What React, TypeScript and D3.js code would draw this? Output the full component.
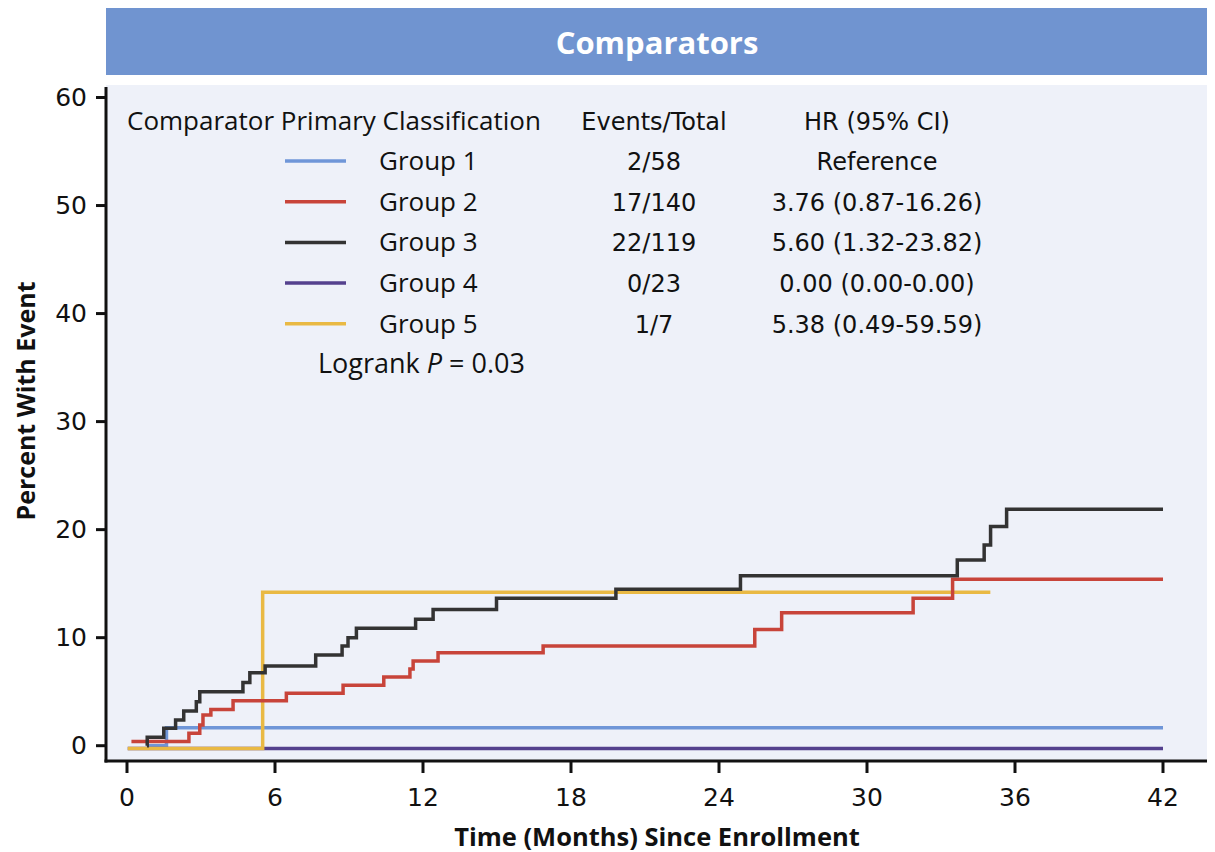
import React from "react"
import * as d3 from "d3"

// Kaplan-Meier style step data: [month, percent]
const group1 = [[0.8, 0], [1.6, 1.67], [42, 1.67]]
const group2 = [[0.18, 0.4], [2.51, 1.15], [2.95, 1.92], [3.08, 2.84], [3.4, 3.35], [4.3, 4.15], [6.46, 4.85], [8.76, 5.6], [10.41, 6.35], [11.47, 7.1], [11.6, 7.84], [12.61, 8.6], [16.87, 9.23], [25.45, 10.75], [26.54, 12.3], [31.87, 13.65], [33.47, 15.4], [42, 15.4]]
const group3 = [[0.81, 0], [0.82, 0.78], [1.49, 1.61], [1.97, 2.38], [2.3, 3.21], [2.81, 4.07], [2.95, 5.0], [4.7, 5.85], [4.98, 6.76], [5.6, 7.38], [7.65, 8.4], [8.72, 9.23], [8.96, 10.0], [9.3, 10.87], [11.7, 11.7], [12.41, 12.6], [14.98, 13.65], [19.82, 14.48], [24.87, 15.74], [33.66, 17.19], [34.75, 18.58], [35.01, 20.28], [35.66, 21.89], [42, 21.89]]
const group4 = [[0.03, -0.25], [42, -0.25]]
const group5 = [[0.03, -0.25], [5.5, 14.2], [35.0, 14.2]]

const groupNames = ["Group 1", "Group 2", "Group 3", "Group 4", "Group 5"]
const colors = ["#6f96d8", "#c8443a", "#333333", "#54418e", "#e9b944"]
const events = ["2/58", "17/140", "22/119", "0/23", "1/7"]
const hrs = ["Reference", "3.76 (0.87-16.26)", "5.60 (1.32-23.82)", "0.00 (0.00-0.00)", "5.38 (0.49-59.59)"]
const xTicks = [0, 6, 12, 18, 24, 30, 36, 42]
const yTicks = [0, 10, 20, 30, 40, 50, 60]

const series = [group1, group2, group3, group4, group5]
const drawOrder = [0, 3, 4, 1, 2]

const W = 1215
const H = 852
const font = "'Open Sans', 'Noto Sans', sans-serif"
const numFont = "'DejaVu Sans', Verdana, sans-serif"

export default function App() {
  const x = d3.scaleLinear().domain([0, 42]).range([127, 1163])
  const y = d3.scaleLinear().domain([0, 60]).range([745.7, 97.5])
  const line = d3.line<number[]>().x(d => x(d[0])).y(d => y(d[1])).curve(d3.curveStepAfter)

  const plotLeft = 106
  const plotRight = 1207
  const plotTop = 85
  const plotBottom = 761

  // text baselines of the legend rows
  const rowY = (i: number) => 170 + i * 40.7

  return (
    <svg width={W} height={H} style={{ position: "absolute", left: 0, top: 0 }} fontFamily={font}>
      <rect x={0} y={0} width={W} height={H} fill="#fff" />
      {/* header band */}
      <rect x={106} y={8} width={1101} height={67} fill="#7094d0" />
      <text x={657} y={42} textAnchor="middle" dominantBaseline="central" fill="#fff" fontSize={31} fontWeight="bold">Comparators</text>

      {/* plot background */}
      <rect x={plotLeft} y={plotTop} width={plotRight - plotLeft} height={plotBottom - plotTop} fill="#eef1f9" />

      {/* curves */}
      {drawOrder.map(i => (
        <path key={i} d={line(series[i]) || ""} fill="none" stroke={colors[i]} strokeWidth={3.5} />
      ))}

      {/* axes */}
      <line x1={plotLeft} x2={plotLeft} y1={87} y2={plotBottom + 1.5} stroke="#111" strokeWidth={3} />
      <line x1={plotLeft - 1.5} x2={plotRight} y1={plotBottom} y2={plotBottom} stroke="#111" strokeWidth={3} />
      {yTicks.map(t => (
        <g key={"y" + t}>
          <line x1={plotLeft - 10} x2={plotLeft} y1={y(t)} y2={y(t)} stroke="#111" strokeWidth={3} />
          <text x={plotLeft - 19} y={y(t)} textAnchor="end" dominantBaseline="central" fontFamily={numFont} fontSize={25} fill="#111">{t}</text>
        </g>
      ))}
      {xTicks.map(t => (
        <g key={"x" + t}>
          <line x1={x(t)} x2={x(t)} y1={plotBottom} y2={plotBottom + 12} stroke="#111" strokeWidth={3} />
          <text x={x(t)} y={797} textAnchor="middle" dominantBaseline="central" fontFamily={numFont} fontSize={25} fill="#111">{t}</text>
        </g>
      ))}
      <text x={657} y={836} textAnchor="middle" dominantBaseline="central" fontSize={25.5} fontWeight="bold" fill="#111">Time (Months) Since Enrollment</text>
      <text transform="translate(25,401) rotate(-90)" textAnchor="middle" dominantBaseline="central" fontSize={25} fontWeight="bold" fill="#111">Percent With Event</text>

      {/* legend table */}
      <g fontSize={26} fill="#111">
        <text x={127} y={130}>Comparator Primary Classification</text>
        <text x={654} y={130} textAnchor="middle" fontFamily={numFont} fontSize={24}>Events/Total</text>
        <text x={877} y={130} textAnchor="middle" fontFamily={numFont} fontSize={24}>HR (95% CI)</text>
        {groupNames.map((g, i) => (
          <g key={g}>
            <line x1={285} x2={346} y1={rowY(i) - 9} y2={rowY(i) - 9} stroke={colors[i]} strokeWidth={3.5} />
            <text x={379} y={rowY(i)}>{g}</text>
            <text x={654} y={rowY(i)} textAnchor="middle" fontFamily={numFont} fontSize={24}>{events[i]}</text>
            <text x={877} y={rowY(i)} textAnchor="middle" fontFamily={numFont} fontSize={24}>{hrs[i]}</text>
          </g>
        ))}
        <text x={318} y={373} fontSize={27}>
          Logrank <tspan fontStyle="italic">P</tspan> = 0.03
        </text>
      </g>
    </svg>
  )
}
